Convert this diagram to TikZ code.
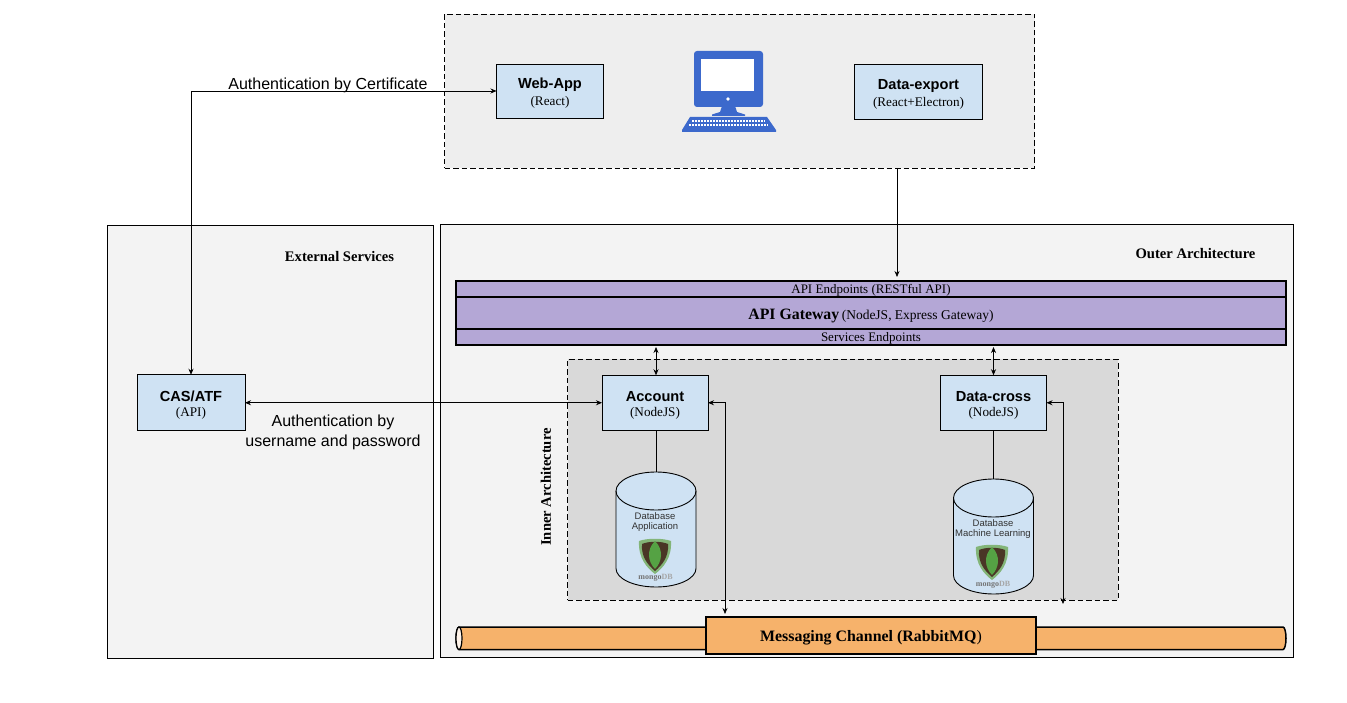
\documentclass[tikz,border=0pt]{standalone}
\usepackage{fontspec}
\setmainfont{Liberation Serif}
\setsansfont{Liberation Sans}
\usetikzlibrary{arrows.meta}
\definecolor{clientgrey}{HTML}{EEEEEE}
\definecolor{outergrey}{HTML}{F3F3F3}
\definecolor{innergrey}{HTML}{D9D9D9}
\definecolor{boxblue}{HTML}{CFE2F3}
\definecolor{gatewaypurple}{HTML}{B4A7D6}
\definecolor{channelorange}{HTML}{F6B26B}
\definecolor{iconblue}{HTML}{3C69CC}
\definecolor{leafgreen}{HTML}{55A244}
\definecolor{shieldbrown}{HTML}{4A3626}
\newcommand{\sizedfont}[1]{\fontsize{#1}{#1}\selectfont}
\newcommand{\boxtext}[2]{\rule{0pt}{15.5pt}{\sffamily\bfseries\sizedfont{14.6}#1}\\[3.5pt]{\sizedfont{13.2}#2}}
\tikzset{
    panel/.style={draw, line width=0.8pt, inner sep=0pt, outer sep=0pt},
    service/.style={draw, line width=0.9pt, fill=boxblue, inner sep=0pt, outer sep=0pt, align=center},
    gatewaystrip/.style={draw, line width=1.2pt, fill=gatewaypurple, inner sep=0pt, outer sep=0pt},
    database/.style={minimum width=80pt, minimum height=115pt, inner sep=0pt, outer sep=0pt},
    drum/.style={draw, line width=0.9pt, fill=boxblue},
    dblabel/.style={font=\sffamily\sizedfont{9.5}, text=black!80, inner sep=0pt},
    note/.style={font=\sffamily\sizedfont{16}, inner sep=0pt, align=center},
    heading/.style={font=\bfseries\sizedfont{14.6}, inner sep=0pt},
    wire/.style={line width=0.7pt, >={Stealth[length=6pt,width=5pt]}},
    longdash/.style={dash pattern=on 5.5pt off 3pt}
}
\newcommand{\dbdrum}[3]{
    \draw[drum] (#1-40,#2+19) -- (#1-40,#3-18.5) arc[start angle=180, end angle=360, x radius=40pt, y radius=18.5pt]
        -- (#1+40,#2+19) arc[start angle=0, end angle=180, x radius=40pt, y radius=19pt] -- cycle;
    \draw[line width=0.9pt] (#1-40,#2+19) arc[start angle=180, end angle=360, x radius=40pt, y radius=19pt];
}
\newcommand{\mongologo}[2]{
    \fill[leafgreen!65!innergrey] (#1-16,#2-15) .. controls (#1-8,#2-18) and (#1+8,#2-18) .. (#1+16,#2-15)
        .. controls (#1+17,#2+2) and (#1+8,#2+12) .. (#1,#2+18) .. controls (#1-8,#2+12) and (#1-17,#2+2) .. (#1-16,#2-15);
    \fill[shieldbrown] (#1-13,#2-12) .. controls (#1-6,#2-15) and (#1+6,#2-15) .. (#1+13,#2-12)
        .. controls (#1+14,#2+1) and (#1+7,#2+9) .. (#1,#2+15) .. controls (#1-7,#2+9) and (#1-14,#2+1) .. (#1-13,#2-12);
    \fill[leafgreen] (#1,#2-15) .. controls (#1+9,#2-6) and (#1+7,#2+6) .. (#1,#2+13)
        .. controls (#1-7,#2+6) and (#1-9,#2-6) .. (#1,#2-15);
}
\begin{document}
\begin{tikzpicture}[x=1pt, y=-1pt]
    \useasboundingbox (0,0) rectangle (1347,703);

    % panels
    \node [panel, longdash, fill=clientgrey, minimum width=590pt, minimum height=154pt] (ClientPanel) at (739.5,91) {};
    \node [panel, fill=outergrey, minimum width=325.5pt, minimum height=433pt] (ExternalPanel) at (270.25,441.5) {};
    \node [panel, fill=outergrey, minimum width=852.5pt, minimum height=432.5pt] (OuterPanel) at (866.75,440.75) {};
    \node [panel, longdash, fill=innergrey, minimum width=550.5pt, minimum height=240.5pt] (InnerPanel) at (842.75,479.75) {};
    \node [heading] (ExternalTitle) at (339.5,256.5) {External Services};
    \node [heading] (OuterTitle) at (1195.5,253.5) {Outer Architecture};
    \node [heading, rotate=90] (InnerTitle) at (546,487) {Inner Architecture};

    % client side
    \node [service, minimum width=107pt, minimum height=54pt] (WebApp) at (550,91) {\boxtext{Web-App}{(React)}};
    \node [service, minimum width=128pt, minimum height=54.5pt] (DataExport) at (918.5,91.75) {\boxtext{Data-export}{(React+Electron)}};
    \fill[iconblue, rounded corners=3pt] (694,51) rectangle (763,107);
    \fill[white] (701,59) rectangle (754,91);
    \fill[white] (728,99) circle (1.8);
    \fill[iconblue] (722,106) -- (735,106) -- (737,112) -- (745,114.5) -- (745,116) -- (712,116) -- (712,114.5) -- (720,112) -- cycle;
    \fill[iconblue] (690,117) -- (767,117) -- (776,130) -- (776,132) -- (682,132) -- (682,130) -- cycle;
    \draw[white, line width=1.3pt, dash pattern=on 2pt off 1pt] (692,121) -- (765,121);
    \draw[white, line width=1.3pt, dash pattern=on 2pt off 1pt] (689,125) -- (768,125);

    % gateway
    \node [gatewaystrip, minimum width=830pt, minimum height=64pt] (Gateway) at (871,313) {};
    \node [gatewaystrip, minimum width=830pt, minimum height=16pt, font=\sizedfont{13}, text height=12pt, text depth=3pt] (ApiEndpoints) at (871,289) {API Endpoints (RESTful API)};
    \node [gatewaystrip, minimum width=830pt, minimum height=16pt, font=\sizedfont{13}, text height=12pt, text depth=3pt] (ServiceEndpoints) at (871,337) {Services Endpoints};
    \draw[line width=2.4pt] (Gateway.north west) rectangle (Gateway.south east);
    \node [inner sep=0pt] (GatewayTitle) at (871,315.5) {{\bfseries\sizedfont{15.8}API Gateway} {\sizedfont{13.5}(NodeJS, Express Gateway)}};

    % services
    \node [service, minimum width=108pt, minimum height=56pt] (CasAtf) at (191,402.75) {\boxtext{CAS/ATF}{(API)}};
    \node [service, minimum width=106pt, minimum height=55pt] (Account) at (655,402.75) {\boxtext{Account}{(NodeJS)}};
    \node [service, minimum width=106pt, minimum height=55pt] (DataCross) at (993.5,402.75) {\boxtext{Data-cross}{(NodeJS)}};

    % databases
    \node [database] (DbApplication) at (656,529.5) {};
    \node [database] (DbLearning) at (993.5,536.5) {};
    \dbdrum{656}{472}{587}
    \dbdrum{993.5}{479}{594}
    \node [dblabel] (DbApplicationA) at (655,516) {Database};
    \node [dblabel] (DbApplicationB) at (655,527) {Application};
    \node [dblabel] (DbLearningA) at (993,523) {Database};
    \node [dblabel] (DbLearningB) at (993,534) {Machine Learning};
    \mongologo{655}{556}
    \mongologo{992}{562}
    \node [inner sep=0pt, font=\bfseries\sizedfont{8}, text=black!55] (MongoA) at (655.5,577.5) {mongo\textcolor{black!35}{DB}};
    \node [inner sep=0pt, font=\bfseries\sizedfont{8}, text=black!55] (MongoB) at (993,585) {mongo\textcolor{black!35}{DB}};

    % messaging channel
    \draw[line width=1.5pt, fill=channelorange] (459,627) -- (1283,627) arc[start angle=90, end angle=-90, x radius=3pt, y radius=11.25pt]
        -- (459,649.5) arc[start angle=270, end angle=90, x radius=3pt, y radius=11.25pt] -- cycle;
    \draw[line width=1.2pt, fill=channelorange!15!white] (459,638.25) ellipse [x radius=3pt, y radius=11.25pt];
    \node [gatewaystrip, line width=1.7pt, fill=channelorange, minimum width=330pt, minimum height=37pt, text height=14.5pt, text depth=3.5pt] (Channel) at (871,635.5)
        {{\bfseries\sizedfont{15.9}Messaging Channel (RabbitMQ}{\sizedfont{15.9})}};

    % connectors
    \coordinate (GatewayIn) at (897,277);
    \coordinate (AccountUp) at (656,347);
    \coordinate (CrossUp) at (993.5,347);
    \coordinate (AccountBus) at (725,614);
    \coordinate (CrossBus) at (1063,604);
    \draw[wire, <->] (CasAtf.north) |- (WebApp.west);
    \draw[wire, ->] (GatewayIn |- ClientPanel.south) -- (GatewayIn);
    \draw[wire, <->] (CasAtf.east) -- (Account.west);
    \draw[wire, <->] (AccountUp) -- (AccountUp |- Account.north);
    \draw[wire, <->] (CrossUp) -- (CrossUp |- DataCross.north);
    \draw[wire, <->] (Account.east) -| (AccountBus);
    \draw[wire, <->] (DataCross.east) -| (CrossBus);
    \draw[line width=0.7pt] (Account.south -| DbApplication.north) -- (DbApplication.north);
    \draw[line width=0.7pt] (DataCross.south) -- (DbLearning.north);

    % labels
    \node [note] (CertNote) at (328,85) {Authentication by Certificate};
    \node [note] (PasswordNote) at (333,432.5) {Authentication by\\[4pt]username and password};
\end{tikzpicture}
\end{document}
